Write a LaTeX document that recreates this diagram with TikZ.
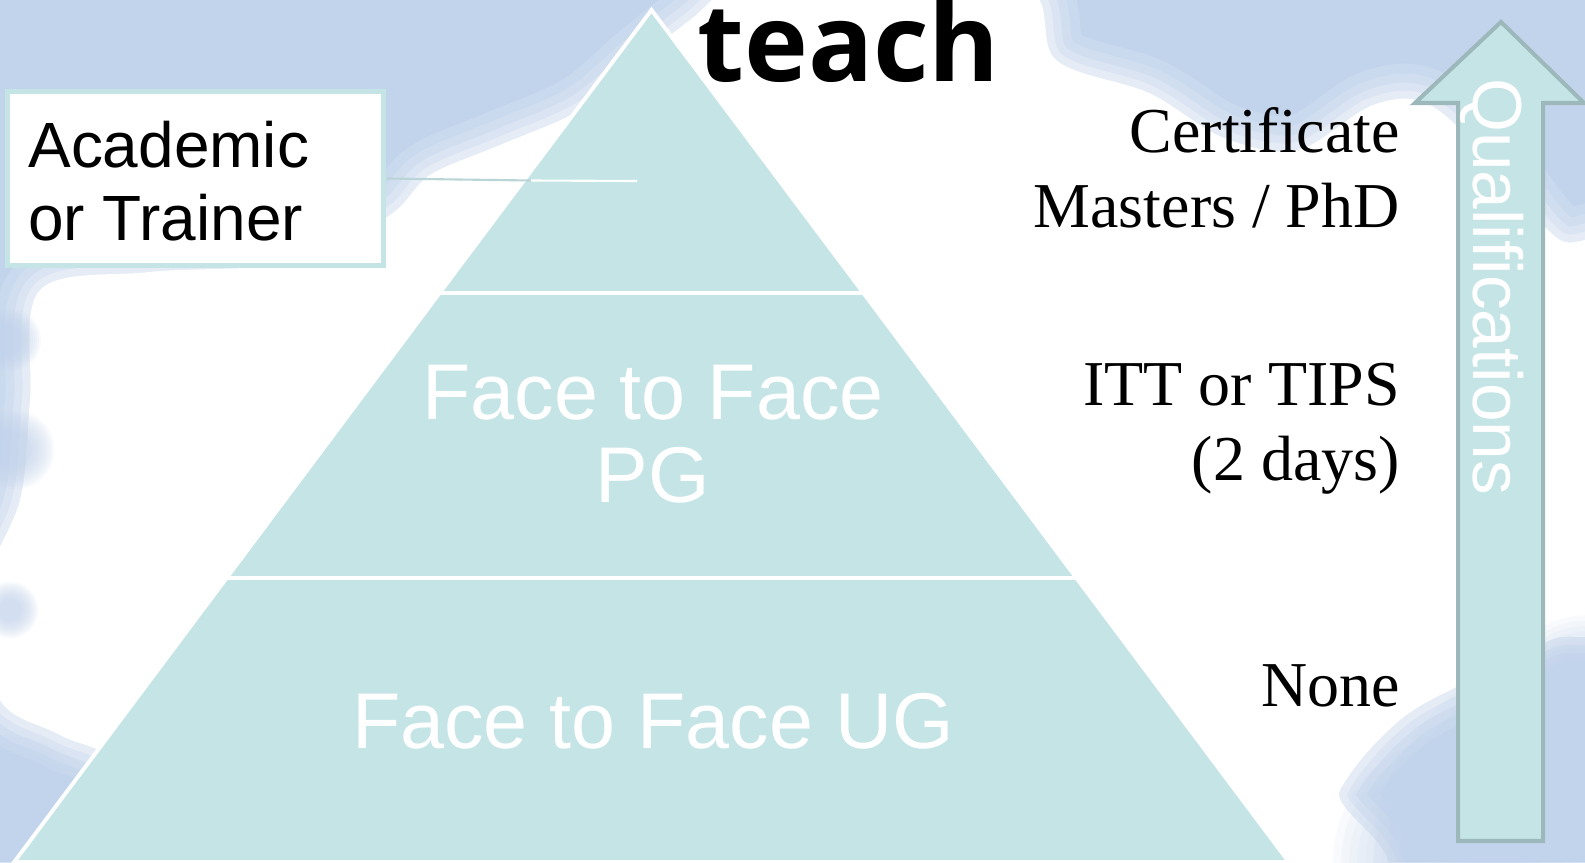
\documentclass[tikz,border=0pt]{standalone}
\usepackage{fontspec}
\setmainfont{Liberation Serif}
\newfontfamily\arialf{Liberation Sans}
\newfontfamily\teachf{Open Sans}
\definecolor{sky}{RGB}{194,212,236}
\definecolor{pyr}{RGB}{196,228,230}
\definecolor{arrowedge}{RGB}{157,184,186}
\tikzset{
  tier/.style={fill=pyr, draw=white, line width=2.2pt, line join=miter},
  facetxt/.style={font=\arialf\fontsize{45}{47.8}\selectfont, text=white, inner sep=0pt},
  sidetxt/.style={font=\fontsize{36.4}{43.2}\selectfont, text=black, inner sep=0pt, anchor=base east},
  conn/.style={pyr!85!gray, line width=1.2pt},
}
\begin{document}
\begin{tikzpicture}[x=0.02cm, y=-0.02cm]
\useasboundingbox (0,0) rectangle (1585,862);
\clip (0,0) rectangle (1585,862);
% sky
\fill[sky] (0,0) rectangle (1585,862);
% clouds
\def\cloudpath{plot[smooth cycle, tension=0.55] coordinates {
 (40,290) (150,272) (300,262) (390,215) (430,175) (500,145) (580,110) (640,60)
 (690,20) (760,-30) (900,-30) (1030,-10) (1056,60) (1149,93) (1224,138)
 (1298,150) (1373,105) (1430,105) (1500,170) (1560,240) (1640,260) (1640,600) (1550,640)
 (1470,680) (1400,720) (1340,790) (1300,900) (150,900) (120,770) (60,735)
 (0,700) (-20,600) (20,500) (30,400)}}
\foreach \w/\o in {70/0.12, 50/0.15, 32/0.2, 16/0.3}
  \draw[white, opacity=\o, line width=\w*0.569pt, line join=round] \cloudpath;
\fill[white] \cloudpath;
% bluish patches
\foreach \cx/\cy/\r in {10/340/22, 15/450/28, 10/610/20, 0/862/90, 1585/860/150, 1460/862/90, 1585/700/60}{
  \foreach \k in {1,...,10}
    \fill[sky, opacity=0.1] (\cx,\cy) circle ({\r*(1.5-0.09*\k)});
}
% pyramid
\path[tier] (651.5,10) -- (863.4,293) -- (439.6,293) -- cycle;
\path[tier] (439.6,293) -- (863.4,293) -- (1076.4,578) -- (226.6,578) -- cycle;
\path[tier] (226.6,578) -- (1076.4,578) -- (1288.8,862) -- (14.2,862) -- cycle;
\node[facetxt, anchor=base] (pg) at (653,419) {\begin{tabular}[t]{@{}c@{}}Face to Face\\PG\end{tabular}};
\node[facetxt, anchor=base] (ug) at (653,748) {Face to Face UG};
% title
\node[anchor=base west, font=\teachf\bfseries\fontsize{61.5}{70}\selectfont, inner sep=0pt] (teach) at (697,81) {teach};
% academic box
\node[draw=pyr, line width=2.85pt, fill=white, minimum width=7.54cm, minimum height=3.5cm, inner sep=0pt] (acad) at (195.5,178.5) {};
\node[anchor=base west, font=\arialf\fontsize{36.4}{42}\selectfont, inner sep=0pt] (acadtext) at (28,167) {\begin{tabular}[t]{@{}l@{}}Academic\\or Trainer\end{tabular}};
\coordinate (c1) at (531,180.5);
\coordinate (c2) at (637,181);
\draw[conn] (acad.east) -- (c1);
\draw[white, line width=1.2pt] (c1) -- (c2);
% right labels
\node[sidetxt] (cert) at (1400,152) {\begin{tabular}[t]{@{}r@{}}Certificate\\Masters / PhD\end{tabular}};
\node[sidetxt] (itt) at (1400,405) {\begin{tabular}[t]{@{}r@{}}ITT or TIPS\\(2 days)\end{tabular}};
\node[sidetxt] (none) at (1400,706) {None};
% arrow
\draw[fill=pyr, draw=arrowedge, line width=2.3pt, line join=miter]
  (1501,22) -- (1584,103) -- (1543,103) -- (1543,841) -- (1458,841) -- (1458,103) -- (1415,103) -- cycle;
\node[rotate=-90, anchor=base west, font=\arialf\fontsize{39.5}{41}\selectfont, text=white, inner sep=0pt] (qual) at (1473,78) {Qualifications};
\end{tikzpicture}
\end{document}
